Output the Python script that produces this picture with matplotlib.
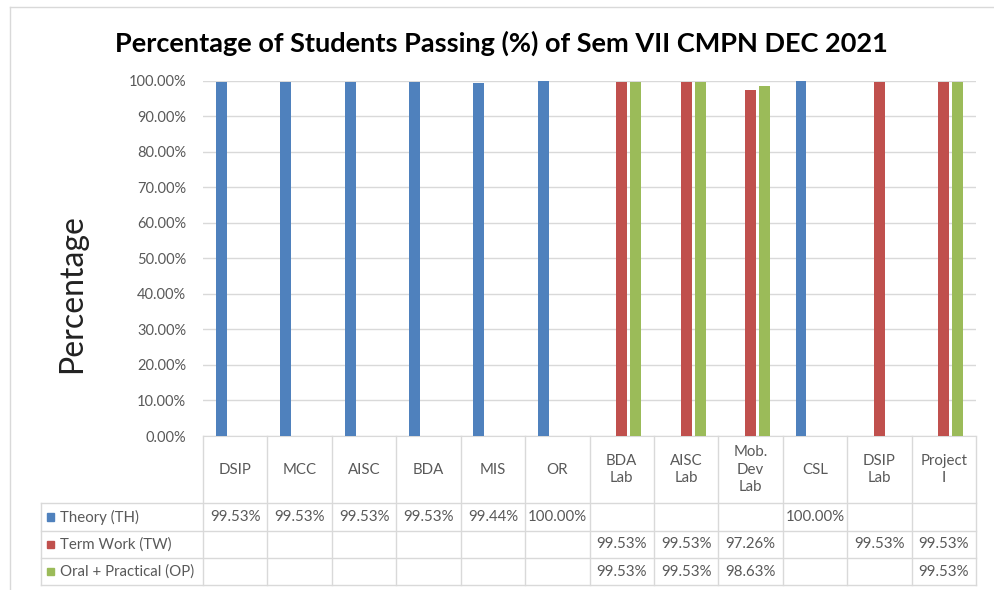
import numpy as np
import matplotlib
matplotlib.use("Agg")
import matplotlib.pyplot as plt
from matplotlib.transforms import blended_transform_factory
from matplotlib.patches import Rectangle

plt.rcParams['font.family'] = ['Lato', 'DejaVu Sans']

categories = ["DSIP", "MCC", "AISC", "BDA", "MIS", "OR", "BDA\nLab", "AISC\nLab",
              "Mob.\nDev\nLab", "CSL", "DSIP\nLab", "Project\nI"]
nan = np.nan
theory = [99.53, 99.53, 99.53, 99.53, 99.44, 100.00, nan, nan, nan, 100.00, nan, nan]
term_work = [nan, nan, nan, nan, nan, nan, 99.53, 99.53, 97.26, nan, 99.53, 99.53]
oral_practical = [nan, nan, nan, nan, nan, nan, 99.53, 99.53, 98.63, nan, nan, 99.53]
series_names = ["Theory (TH)", "Term Work (TW)", "Oral + Practical (OP)"]
colors = ["#4F81BD", "#C0504D", "#9BBB59"]

W, H = 994, 590
fig = plt.figure(figsize=(W / 100, H / 100), dpi=100)

# plot area in pixels
x0, x1, ytop, ybot = 203, 976, 80.7, 436
ax = fig.add_axes([x0 / W, 1 - ybot / H, (x1 - x0) / W, (ybot - ytop) / H])

x = np.arange(len(categories))
width = 0.17
offset = 0.217
for i, (vals, c) in enumerate(zip([theory, term_work, oral_practical], colors)):
    ax.bar(x + (i - 1) * offset, vals, width, color=c, clip_on=False, zorder=3)

ax.set_xlim(-0.5, len(categories) - 0.5)
ax.set_ylim(0, 100)
ax.set_yticks(np.arange(0, 101, 10))
ax.set_yticklabels([f"{v:.2f}%" for v in np.arange(0, 101, 10)], fontsize=10.5, color="#595959")
ax.tick_params(axis='y', length=0, pad=12)
ax.tick_params(axis='x', length=0, labelbottom=False)
ax.grid(axis='y', color="#d9d9d9", linewidth=1, zorder=0)
for s in ['top', 'right', 'left']:
    ax.spines[s].set_visible(False)
ax.spines['bottom'].set_color("#d9d9d9")

fig.text(72 / W, 1 - 294 / H, "Percentage", rotation=90, ha='center', va='center',
         fontsize=23, color="#222222")

fig.text(501 / W, 1 - 43 / H, "Percentage of Students Passing (%) of Sem VII CMPN DEC 2021",
         ha='center', va='center', fontsize=19.5, fontweight='bold')

# data table below the axes
def ay(py):
    return -(py - ybot) / (ybot - ytop)

tr = blended_transform_factory(ax.transData, ax.transAxes)
grid_c = "#d9d9d9"
rows = [436, 503, 531, 558, 585]
n = len(categories)
for k in range(n + 1):
    ax.plot([k - 0.5, k - 0.5], [ay(436), ay(585)], transform=tr, color=grid_c,
            lw=1, clip_on=False)
leg_left = -0.5 - (x0 - 40.7) / ((x1 - x0) / n)
ax.plot([leg_left, leg_left], [ay(503), ay(585)], transform=tr, color=grid_c, lw=1, clip_on=False)
for r in rows[1:]:
    ax.plot([leg_left, n - 0.5], [ay(r), ay(r)], transform=tr, color=grid_c, lw=1, clip_on=False)

for k, cat in enumerate(categories):
    ax.text(k, ay(469.5), cat, transform=tr, ha='center', va='center', fontsize=10.8,
            color="#595959", linespacing=1.3)

px_per_cat = (x1 - x0) / n
for i, (vals, c, name) in enumerate(zip([theory, term_work, oral_practical], colors, series_names)):
    yc = ay((rows[i + 1] + rows[i + 2]) / 2)
    for k, v in enumerate(vals):
        if not np.isnan(v):
            ax.text(k, yc, f"{v:.2f}%", transform=tr, ha='center', va='center',
                    fontsize=10.8, color="#595959")
    sq_x = leg_left + 6 / px_per_cat
    ax.add_patch(Rectangle((sq_x, yc - 0.011), 7 / px_per_cat, 0.022, transform=tr,
                           color=c, clip_on=False))
    ax.text(leg_left + 19 / px_per_cat, yc, name, transform=tr, ha='left', va='center',
            fontsize=10.8, color="#595959")

# chart frame
fig.add_artist(plt.Line2D([10 / W, 1], [1 - 7 / H, 1 - 7 / H], color=grid_c, lw=1))
fig.add_artist(plt.Line2D([10 / W, 10 / W], [0, 1 - 7 / H], color=grid_c, lw=1))

fig.savefig("out.png", dpi=100)
